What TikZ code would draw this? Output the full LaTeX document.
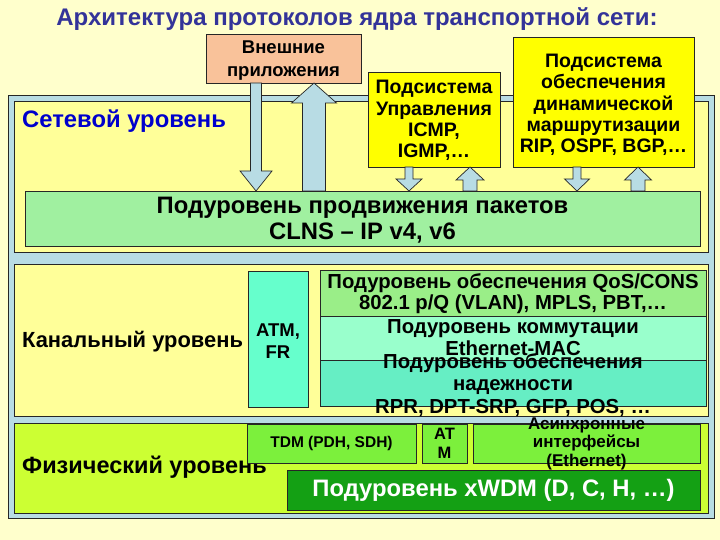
\documentclass[tikz,border=0pt]{standalone}
\usepackage{fontspec}
\setmainfont{Liberation Sans}
\usetikzlibrary{calc}
\definecolor{bgY}{HTML}{FFFFCC}
\definecolor{outerB}{HTML}{B8DCE4}
\definecolor{panelY}{HTML}{FFFF99}
\definecolor{pktG}{HTML}{A0F0A0}
\definecolor{extO}{HTML}{F9C29A}
\definecolor{subY}{HTML}{FFFF00}
\definecolor{atmC}{HTML}{66FFCC}
\definecolor{qosG}{HTML}{9AEE88}
\definecolor{swC}{HTML}{99FFCC}
\definecolor{relC}{HTML}{66EEC4}
\definecolor{physY}{HTML}{CCFF33}
\definecolor{physG}{HTML}{7CF03C}
\definecolor{wdmG}{HTML}{14A014}
\definecolor{titleB}{HTML}{333399}
\definecolor{netB}{HTML}{0000CC}
\tikzset{
  box/.style={draw=black!85, line width=0.8pt, inner sep=0pt, outer sep=0pt},
  txt/.style={inner sep=0pt, align=center, font=\bfseries},
  blockarrow/.style={draw=black!85, line width=0.7pt, fill=outerB},
}
% #1 x, #2 start node anchor, #3 end node anchor, #4 shaft half, #5 head half, #6 head length
\newcommand\blockarr[6]{%
  \path (#1,0 |- #2) coordinate (ba-s) (#1,0 |- #3) coordinate (ba-e);
  \draw[blockarrow] let \p1=(ba-s), \p2=(ba-e), \n1={sign(\y2-\y1)} in
    (\x1-#4pt,\y1) -- (\x1-#4pt,\y2-\n1*#6pt) -- (\x1-#5pt,\y2-\n1*#6pt) -- (\x1,\y2)
    -- (\x1+#5pt,\y2-\n1*#6pt) -- (\x1+#4pt,\y2-\n1*#6pt) -- (\x1+#4pt,\y1) -- cycle;
}
\begin{document}
\begin{tikzpicture}[x=1pt,y=-1pt]
\useasboundingbox[fill=bgY] (0,0) rectangle (720,540);

% title
\node[txt, text=titleB, font=\bfseries\fontsize{24}{28}\selectfont] (title) at (357,19) {Архитектура протоколов ядра транспортной сети:};

% outer frame
\node[box, fill=outerB, minimum width=706, minimum height=423] (outer) at (361,306.5) {};

% network level
\node[box, fill=panelY, minimum width=694, minimum height=151] (net) at (361,176.5) {};
\node[txt, text=netB, anchor=west, font=\bfseries\fontsize{23.8}{28}\selectfont] (netlbl) at (22,121) {Сетевой уровень};
\node[box, fill=pktG, minimum width=675, minimum height=55] (pkt) at (362.5,218.5) {};

% top boxes
\node[box, fill=extO, minimum width=155, minimum height=49] (ext) at (283.5,58.5) {};
\node[box, fill=subY, minimum width=132, minimum height=95] (icmp) at (434,119.5) {};
\node[box, fill=subY, minimum width=181, minimum height=130] (rout) at (603.5,102) {};

% arrows
\blockarr{256}{ext.south}{pkt.north}{5.5}{16}{20}
\blockarr{314}{pkt.north}{ext.south}{11.5}{22.5}{20}
\blockarr{409}{icmp.south}{pkt.north}{4}{13}{12}
\blockarr{470}{pkt.north}{icmp.south}{7}{14}{13}
\blockarr{577}{rout.south}{pkt.north}{4}{12.5}{12}
\blockarr{638}{pkt.north}{rout.south}{7}{13.5}{13}

% texts of network level
\node[txt, font=\bfseries\fontsize{18.5}{23}\selectfont] (t-ext) at ([yshift=-2]ext.center) {Внешние\\приложения};
\node[txt, font=\bfseries\fontsize{19.5}{21.3}\selectfont] (t-icmp) at ([yshift=-1]icmp.center) {Подсистема\\Управления\\ICMP,\\IGMP,…};
\node[txt, font=\bfseries\fontsize{19.5}{21.3}\selectfont] (t-rout) at ([yshift=-3]rout.center) {Подсистема\\обеспечения\\динамической\\маршрутизации\\RIP, OSPF, BGP,…};
\node[txt, font=\bfseries\fontsize{23.8}{26}\selectfont] (t-pkt) at ([yshift=-1.5]pkt.center) {Подуровень продвижения пакетов\\CLNS – IP v4, v6};

% channel level
\node[box, fill=panelY, minimum width=694, minimum height=152] (chan) at (361,340.5) {};
\node[box, fill=atmC, minimum width=60, minimum height=136] (atmfr) at (278,339) {};
\node[box, fill=qosG, minimum width=386, minimum height=46] (qos) at (513,293) {};
\node[box, fill=swC, minimum width=386, minimum height=44] (sw) at (513,338) {};
\node[box, fill=relC, minimum width=386, minimum height=46] (rel) at (513,383) {};
\node[txt, anchor=west, font=\bfseries\fontsize{21.9}{26}\selectfont] (chanlbl) at (22,342) {Канальный уровень};
\node[txt, font=\bfseries\fontsize{18.5}{22}\selectfont] (t-atmfr) at ([yshift=-2]atmfr.center) {ATM,\\FR};
\node[txt, font=\bfseries\fontsize{20.3}{21}\selectfont] (t-qos) at ([yshift=-0.5]qos.center) {Подуровень обеспечения QoS/CONS\\802.1 p/Q (VLAN), MPLS, PBT,…};
\node[txt, font=\bfseries\fontsize{20.3}{22}\selectfont] (t-sw) at (sw.center) {Подуровень коммутации\\Ethernet-MAC};
\node[txt, font=\bfseries\fontsize{20.3}{22.5}\selectfont] (t-rel) at ([yshift=-2]rel.center) {Подуровень обеспечения\\надежности\\RPR, DPT-SRP, GFP, POS, …};

% physical level
\node[box, fill=physY, minimum width=694, minimum height=90] (phys) at (361,468) {};
\node[txt, anchor=west, font=\bfseries\fontsize{23.5}{27}\selectfont] (physlbl) at (22,467) {Физический уровень};
\node[box, fill=physG, minimum width=169, minimum height=39] (tdm) at (331.5,443.5) {};
\node[box, fill=physG, minimum width=45, minimum height=39] (atm) at (444.5,443.5) {};
\node[box, fill=physG, minimum width=227, minimum height=39] (async) at (586.5,443.5) {};
\node[box, fill=wdmG, minimum width=413, minimum height=40] (wdm) at (493.5,490) {};
\node[txt, font=\bfseries\fontsize{15.5}{18}\selectfont] (t-tdm) at (tdm.center) {TDM (PDH, SDH)};
\node[txt, font=\bfseries\fontsize{16.5}{19}\selectfont] (t-atm) at (atm.center) {AT\\M};
\node[txt, font=\bfseries\fontsize{17}{18.5}\selectfont] (t-async) at (async.center) {Асинхронные\\интерфейсы\\(Ethernet)};
\node[txt, text=white, font=\bfseries\fontsize{23.8}{27}\selectfont] (t-wdm) at (wdm.center) {Подуровень xWDM (D, C, H, …)};
\end{tikzpicture}
\end{document}
